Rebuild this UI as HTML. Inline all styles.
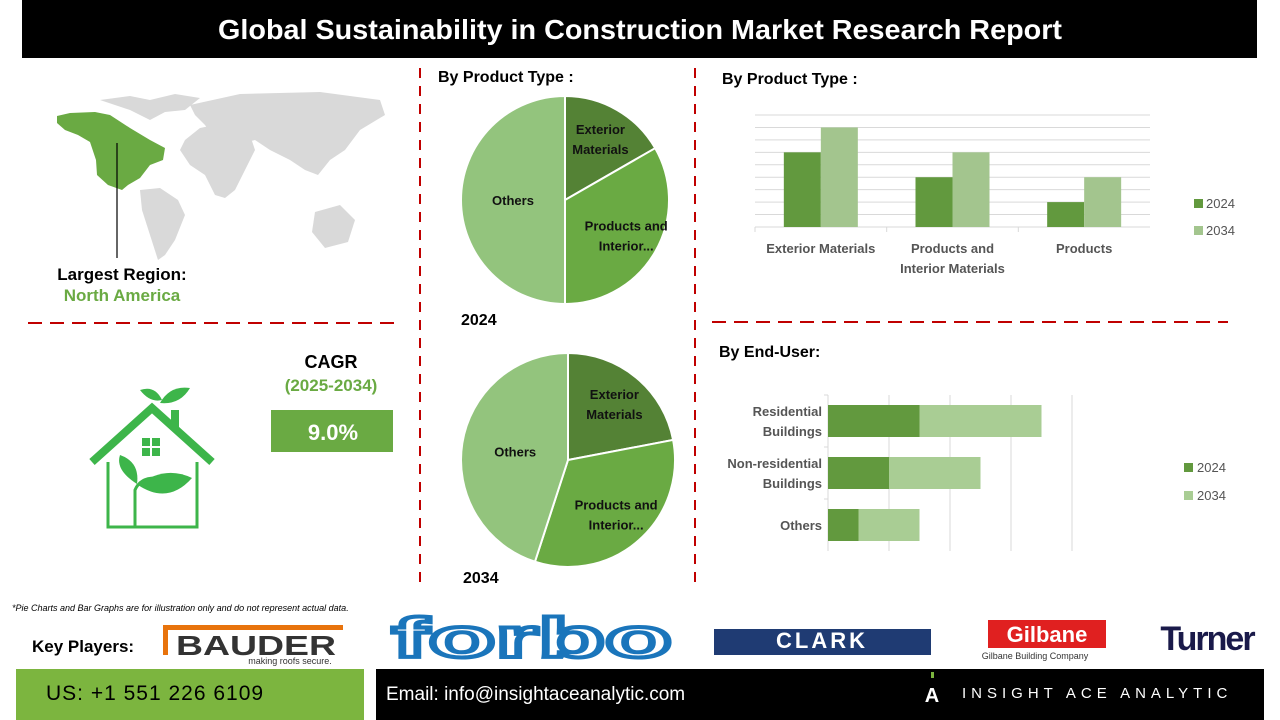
<!DOCTYPE html>
<html><head><meta charset="utf-8">
<style>
body{margin:0;width:1280px;height:720px;overflow:hidden;background:#fff;font-family:"Liberation Sans",sans-serif}
svg{display:block}
text{font-family:"Liberation Sans",sans-serif}
</style></head>
<body>
<svg width="1280" height="720" viewBox="0 0 1280 720">
<rect x="22" y="0" width="1235" height="58" fill="#000"/>
<text x="640" y="39" text-anchor="middle" font-size="28" font-weight="bold" fill="#fff" textLength="844" lengthAdjust="spacingAndGlyphs">Global Sustainability in Construction Market Research Report</text>

<line x1="420" y1="68" x2="420" y2="588" stroke="#c00000" stroke-width="2" stroke-dasharray="10,8"/>
<line x1="695" y1="68" x2="695" y2="588" stroke="#c00000" stroke-width="2" stroke-dasharray="10,8"/>
<line x1="28" y1="323" x2="397" y2="323" stroke="#c00000" stroke-width="2" stroke-dasharray="14,8"/>
<line x1="712" y1="322" x2="1228" y2="322" stroke="#c00000" stroke-width="2" stroke-dasharray="14,8"/>

<g fill="#d9d9d9">
<path d="M100,100 L130,96 L150,100 L175,94 L200,98 L185,110 L165,112 L150,120 L130,110 Z"/>
<path d="M140,190 L160,188 L178,200 L185,215 L175,240 L165,255 L158,260 L150,235 L142,210 Z"/>
<path d="M185,140 L200,128 L215,125 L230,130 L250,135 L255,150 L245,170 L235,190 L225,198 L215,195 L205,175 L190,165 L180,150 Z"/>
<path d="M190,105 L240,94 L320,92 L380,100 L385,115 L360,130 L345,150 L330,160 L318,175 L305,170 L290,160 L270,150 L255,140 L235,145 L215,140 L205,125 L195,115 Z"/>
<path d="M315,212 L340,205 L355,220 L348,242 L325,248 L312,232 Z"/>
</g>
<path d="M57,116 L70,113 L95,112 L110,115 L130,128 L150,140 L165,148 L163,160 L150,165 L140,178 L128,185 L122,190 L108,185 L97,175 L96,160 L90,142 L78,135 L65,130 L57,123 Z" fill="#6aaa43"/>
<line x1="117" y1="143" x2="117" y2="258" stroke="#000" stroke-width="1.2"/>
<text x="122" y="280" text-anchor="middle" font-size="17" font-weight="bold" fill="#000">Largest Region:</text>
<text x="122" y="301" text-anchor="middle" font-size="17" font-weight="bold" fill="#6aaa43">North America</text>

<g fill="none" stroke="#3db54a">
<path d="M92,462 L152,408 L212,462" stroke-width="8" stroke-linejoin="miter"/>
<path d="M108,462 L108,527 L197,527 L197,462" stroke-width="3"/>
<path d="M135,527 L135,490 Q140,478 155,478" stroke-width="3"/>
<rect x="171" y="410" width="8" height="20" fill="#3db54a" stroke="none"/>
<g fill="#3db54a" stroke="none">
<rect x="142" y="438" width="8" height="8"/><rect x="152" y="438" width="8" height="8"/>
<rect x="142" y="448" width="8" height="8"/><rect x="152" y="448" width="8" height="8"/>
<path d="M160,403 Q170,385 190,388 Q180,405 160,403Z"/>
<path d="M162,400 Q155,385 140,390 Q150,403 162,400Z"/>
<path d="M138,485 Q165,465 192,478 Q168,505 138,485Z"/>
<path d="M137,484 Q115,470 120,455 Q140,462 137,484Z"/>
</g></g>

<text x="331" y="368" text-anchor="middle" font-size="18" font-weight="bold" fill="#000">CAGR</text>
<text x="331" y="391" text-anchor="middle" font-size="17" font-weight="bold" fill="#6aaa43">(2025-2034)</text>
<rect x="271" y="410" width="122" height="42" fill="#6aaa43"/>
<text x="333" y="440" text-anchor="middle" font-size="22" font-weight="bold" fill="#fff">9.0%</text>

<text x="438" y="82" font-size="16" font-weight="bold" fill="#000">By Product Type :</text>
<g id="pies"></g>
<text x="461" y="325" font-size="16" font-weight="bold" fill="#000">2024</text>
<text x="463" y="583" font-size="16" font-weight="bold" fill="#000">2034</text>

<text x="722" y="84" font-size="16" font-weight="bold" fill="#000">By  Product Type :</text>
<g id="colchart"></g>

<text x="719" y="357" font-size="16" font-weight="bold" fill="#000">By End-User:</text>
<g id="barchart"></g>

<text x="12" y="611" font-size="9" font-style="italic" fill="#000">*Pie Charts and Bar Graphs are for illustration only and do not represent actual data.</text>
<text x="32" y="652" font-size="17" font-weight="bold" fill="#000">Key Players:</text>
<g>
<path d="M163,625 L163,655 L168,655 L168,630 L343,630 L343,625 Z" fill="#e8730c"/>
<text x="256" y="655" text-anchor="middle" font-size="28" font-weight="bold" fill="#333" textLength="160" lengthAdjust="spacingAndGlyphs">BAUDER</text>
<text x="290" y="664" text-anchor="middle" font-size="9" fill="#333">making roofs secure.</text></g>
<text x="532" y="657" text-anchor="middle" font-size="56" font-weight="bold" fill="none" stroke="#1a75bb" stroke-width="4" textLength="280" lengthAdjust="spacingAndGlyphs">forbo</text>
<rect x="714" y="629" width="217" height="26" fill="#1f3b73"/>
<text x="822" y="648" text-anchor="middle" font-size="22" font-family="Liberation Serif" font-weight="bold" fill="#fff" letter-spacing="3">CLARK</text>
<rect x="988" y="620" width="118" height="28" fill="#e02020"/>
<text x="1047" y="642" text-anchor="middle" font-size="22" font-weight="bold" fill="#fff">Gilbane</text>
<text x="1035" y="659" text-anchor="middle" font-size="9" fill="#333">Gilbane Building Company</text>
<text x="1207" y="650" text-anchor="middle" font-size="34" font-weight="bold" fill="#1a1a4a" letter-spacing="-2">Turner</text>

<rect x="16" y="669" width="348" height="51" fill="#7cb53f"/>
<text x="46" y="700" font-size="21" fill="#000" letter-spacing="1" font-family="Liberation Mono">US: +1 551 226 6109</text>
<rect x="376" y="669" width="888" height="51" fill="#000"/>
<text x="386" y="700" font-size="19" fill="#fff">Email: info@insightaceanalytic.com</text>
<rect x="931" y="672" width="3" height="6" fill="#7cb53f"/>
<text x="932" y="702" text-anchor="middle" font-size="20" font-weight="bold" fill="#fff">A</text>
<text x="962" y="698" font-size="15" fill="#fff" letter-spacing="5">INSIGHT ACE ANALYTIC</text>
</svg>

<script>
const NS='http://www.w3.org/2000/svg';
function mk(tag,attrs,parent,txt){const e=document.createElementNS(NS,tag);for(const k in attrs)e.setAttribute(k,attrs[k]);if(txt!==undefined)e.textContent=txt;parent.appendChild(e);return e;}

const pieCategories=['Exterior Materials','Products and Interior...','Others'];
const pie2024=[16.7,33.3,50];
const pie2034=[22,33,45];
const pieColors=['#548235','#6aaa43','#93c47d'];

function drawPie(cx,cy,r,vals,name){
  const g=document.getElementById('pies');
  const total=vals.reduce((a,b)=>a+b,0);
  let a0=0;
  vals.forEach((v,i)=>{
    const a1=a0+v/total*2*Math.PI;
    const x0=cx+r*Math.sin(a0),y0=cy-r*Math.cos(a0),x1=cx+r*Math.sin(a1),y1=cy-r*Math.cos(a1);
    const p=mk('path',{d:`M${cx},${cy}L${x0},${y0}A${r},${r} 0 ${a1-a0>Math.PI?1:0} 1 ${x1},${y1}Z`,fill:pieColors[i],stroke:'#fff','stroke-width':2},g);
    
    
    const am=(a0+a1)/2, lr=r*(i===2?0.5:0.68);
    const lx=cx+lr*Math.sin(am), ly=cy-lr*Math.cos(am);
    const words=i===0?['Exterior','Materials']:i===1?['Products and','Interior...']:['Others'];
    words.forEach((w,j)=>{
      const t=mk('text',{x:lx,y:ly+(j-(words.length-1)/2)*20+5,'text-anchor':'middle','font-size':13,'font-weight':'bold',fill:'#111'},g,w);
      
      
    });
    a0=a1;
  });
}
drawPie(565,200,104,pie2024,'pie-2024');
drawPie(568,460,107,pie2034,'pie-2034');

const colCategories=[['Exterior Materials'],['Products and','Interior Materials'],['Products']];
const col2024=[6,4,2];
const col2034=[8,6,4];
const colTicks=[0,1,2,3,4,5,6,7,8,9];
(function(){
  const g=document.getElementById('colchart');
  const x0=755,x1=1150,yb=227,yt=115,max=9;
  const y=v=>yb-(v/max)*(yb-yt);
  colTicks.forEach(t=>{const l=mk('line',{x1:x0,x2:x1,y1:y(t),y2:y(t),stroke:'#d9d9d9','stroke-width':1},g);
    
    });
  const cw=(x1-x0)/colCategories.length, bw=37;
  colCategories.forEach((c,i)=>{
    const cx=x0+cw*(i+0.5);
    const b1=mk('rect',{x:cx-bw,y:y(col2024[i]),width:bw,height:yb-y(col2024[i]),fill:'#62993e'},g);
    
    
    const b2=mk('rect',{x:cx,y:y(col2034[i]),width:bw,height:yb-y(col2034[i]),fill:'#a3c58e'},g);
    
    
    c.forEach((w,j)=>{const t=mk('text',{x:cx,y:253+j*20,'text-anchor':'middle','font-size':13,'font-weight':'bold',fill:'#555'},g,w);
      
      });
    const tk=mk('line',{x1:x0+cw*i,x2:x0+cw*i,y1:yb,y2:yb+5,stroke:'#d9d9d9'},g);
    
    
  });
  [['2024','#62993e',208],['2034','#a3c58e',235]].forEach(([l,c,yy])=>{
    const r=mk('rect',{x:1194,y:yy-9,width:9,height:9,fill:c},g);
    
    
    const t=mk('text',{x:1206,y:yy,'font-size':13,fill:'#555'},g,l);
    
    
  });
})();

const barCategories=[['Residential','Buildings'],['Non-residential','Buildings'],['Others']];
const bar2024=[1.5,1,0.5];
const bar2034=[2,1.5,1];
const barTicks=[0,1,2,3,4];
(function(){
  const g=document.getElementById('barchart');
  const x0=828,unit=61,yt=395,yb=551;
  const x=v=>x0+v*unit;
  barTicks.forEach(t=>{const l=mk('line',{x1:x(t),x2:x(t),y1:yt,y2:yb,stroke:'#d9d9d9'},g);
    
    });
  const bh=(yb-yt)/barCategories.length;
  barCategories.forEach((c,i)=>{
    const cy=yt+bh*(i+0.5);
    const r1=mk('rect',{x:x(0),y:cy-16,width:x(bar2024[i])-x(0),height:32,fill:'#62993e'},g);
    
    
    const r2=mk('rect',{x:x(bar2024[i]),y:cy-16,width:x(bar2024[i]+bar2034[i])-x(bar2024[i]),height:32,fill:'#a9cd94'},g);
    
    
    c.forEach((w,j)=>{const t=mk('text',{x:822,y:cy+5+(j-(c.length-1)/2)*20,'text-anchor':'end','font-size':13,'font-weight':'bold',fill:'#555'},g,w);
      
      });
    const tk=mk('line',{x1:x0-4,x2:x0,y1:yt+bh*i,y2:yt+bh*i,stroke:'#d9d9d9'},g);
    
    
  });
  [['2024','#62993e',472],['2034','#a9cd94',500]].forEach(([l,c,yy])=>{
    const r=mk('rect',{x:1184,y:yy-9,width:9,height:9,fill:c},g);
    
    
    const t=mk('text',{x:1197,y:yy,'font-size':13,fill:'#555'},g,l);
    
    
  });
})();
</script>
</body></html>
